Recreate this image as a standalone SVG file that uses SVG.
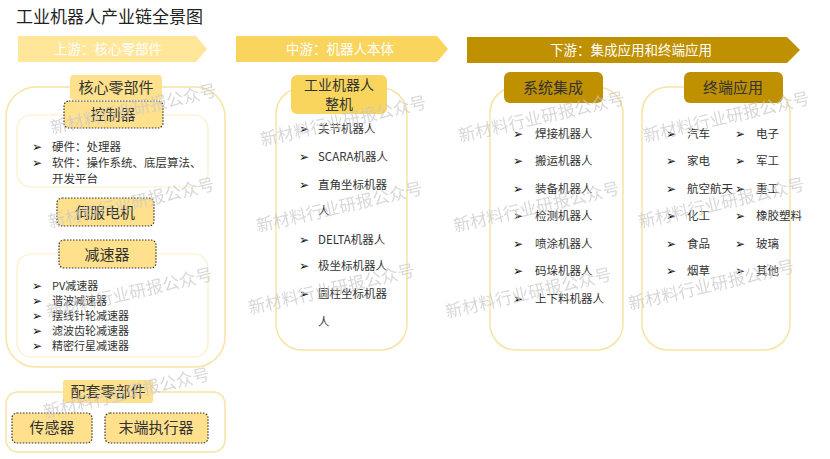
<svg xmlns="http://www.w3.org/2000/svg" width="830" height="459" viewBox="0 0 830 459">
<defs>
<style>
.t{font-family:"Noto Sans CJK SC","Liberation Sans",sans-serif;fill:#333;}
.title{font-size:17px;fill:#222;}
.ban{font-size:13.5px;fill:#fff;text-anchor:middle;}
.lbl{font-size:15px;text-anchor:middle;}
.it{font-size:11.5px;}
.b{font-family:"DejaVu Sans",sans-serif;font-size:12px;fill:#111;}
.frame{fill:#fff;stroke:#F6E4A2;stroke-width:1.5;}
.inner{fill:#fff;stroke:#FBEFC6;stroke-width:1.2;}
.dot{fill:#FFE08C;stroke:#333;stroke-width:1.2;stroke-dasharray:1.5 1.5;}
.wm{font-family:"Noto Sans CJK SC",sans-serif;font-size:17px;fill:#c8c8c8;opacity:0.7;}
</style>
</defs>
<rect width="830" height="459" fill="#fff"/>
<text class="t title" x="16" y="23">工业机器人产业链全景图</text>

<g id="banners">
<polygon points="18,36 196,36 207,49 196,62 18,62" fill="#FFE699"/>
<text class="t ban" x="108" y="54">上游：核心零部件</text>
<polygon points="236,36 437,36 448,49 437,62 236,62" fill="#F9D55E"/>
<text class="t ban" x="340" y="54">中游：机器人本体</text>
<polygon points="467,37 787,37 800,50 787,63 467,63" fill="#BF9000"/>
<text class="t ban" x="631" y="55">下游：集成应用和终端应用</text>
</g>

<g id="core">
<rect class="frame" x="6" y="87" width="219" height="280" rx="30"/>
<rect x="70" y="75" width="92" height="25" rx="4" fill="#FFE08C"/>
<text class="t lbl" x="116" y="93">核心零部件</text>
<rect class="inner" x="17" y="115" width="191" height="72" rx="14"/>
<rect class="inner" x="17" y="254" width="191" height="103" rx="14"/>
</g>

<g id="controller">
<rect class="dot" x="64" y="101" width="99" height="27" rx="5"/>
<text class="t lbl" x="113" y="120">控制器</text>
<text class="b" x="32" y="151">➢</text><text class="t it" x="52" y="151">硬件：处理器</text>
<text class="b" x="32" y="167">➢</text><text class="t it" x="52" y="167">软件：操作系统、底层算法、</text>
<text class="t it" x="52" y="183">开发平台</text>
</g>

<g id="servo">
<rect class="dot" x="57" y="198" width="97" height="28" rx="5"/>
<text class="t lbl" x="105" y="218">伺服电机</text>
</g>

<g id="reducer">
<rect class="dot" x="59" y="240" width="97" height="28" rx="5"/>
<text class="t lbl" x="107" y="260">减速器</text>
<g class="t it" style="font-size:11px">
<text x="52" y="290">PV减速器</text>
<text x="52" y="305">谐波减速器</text>
<text x="52" y="320">摆线针轮减速器</text>
<text x="52" y="335">滤波齿轮减速器</text>
<text x="52" y="350">精密行星减速器</text>
</g>
<text class="b" x="32" y="290">➢</text>
<text class="b" x="32" y="305">➢</text>
<text class="b" x="32" y="320">➢</text>
<text class="b" x="32" y="335">➢</text>
<text class="b" x="32" y="350">➢</text>
</g>

<g id="support">
<rect class="frame" x="6" y="392" width="219" height="60" rx="12"/>
<rect x="63" y="380" width="90" height="23" rx="3" fill="#FFE08C"/>
<text class="t lbl" x="108" y="397">配套零部件</text>
</g>
<g id="sensor">
<rect class="dot" x="12" y="413" width="80" height="30" rx="5"/>
<text class="t lbl" x="52" y="433">传感器</text>
</g>
<g id="effector">
<rect class="dot" x="105" y="413" width="103" height="30" rx="5"/>
<text class="t lbl" x="156" y="433">末端执行器</text>
</g>

<g id="robot">
<rect class="frame" x="276" y="88" width="131" height="262" rx="26"/>
<rect x="291" y="75" width="96" height="39" rx="6" fill="#F9D55E"/>
<text class="t lbl" x="339" y="90" style="font-size:14px">工业机器人</text>
<text class="t lbl" x="339" y="109" style="font-size:14px">整机</text>
<g class="t it">
<text x="318" y="133">关节机器人</text>
<text x="318" y="161">SCARA机器人</text>
<text x="318" y="189">直角坐标机器</text>
<text x="318" y="215">人</text>
<text x="318" y="244">DELTA机器人</text>
<text x="318" y="270">极坐标机器人</text>
<text x="318" y="298">圆柱坐标机器</text>
<text x="318" y="326">人</text>
</g>
<text class="b" x="299" y="133">➢</text>
<text class="b" x="299" y="161">➢</text>
<text class="b" x="299" y="189">➢</text>
<text class="b" x="299" y="244">➢</text>
<text class="b" x="299" y="270">➢</text>
<text class="b" x="299" y="298">➢</text>
</g>

<g id="integration">
<rect class="frame" x="490" y="87" width="133" height="263" rx="26"/>
<rect x="504" y="72" width="99" height="31" rx="6" fill="#BF9000"/>
<text class="t lbl" x="553" y="93">系统集成</text>
<g class="t it">
<text x="535" y="138">焊接机器人</text>
<text x="535" y="165">搬运机器人</text>
<text x="535" y="193">装备机器人</text>
<text x="535" y="220">检测机器人</text>
<text x="535" y="248">喷涂机器人</text>
<text x="535" y="275">码垛机器人</text>
<text x="535" y="303">上下料机器人</text>
</g>
<text class="b" x="513" y="138">➢</text>
<text class="b" x="513" y="165">➢</text>
<text class="b" x="513" y="193">➢</text>
<text class="b" x="513" y="220">➢</text>
<text class="b" x="513" y="248">➢</text>
<text class="b" x="513" y="275">➢</text>
<text class="b" x="513" y="303">➢</text>
</g>

<g id="terminal">
<rect class="frame" x="642" y="87" width="148" height="263" rx="26"/>
<rect x="684" y="72" width="99" height="31" rx="6" fill="#BF9000"/>
<text class="t lbl" x="733" y="93">终端应用</text>
<g class="t it">
<text x="687" y="138">汽车</text><text x="756" y="138">电子</text>
<text x="687" y="165">家电</text><text x="756" y="165">军工</text>
<text x="687" y="193">航空航天</text><text x="756" y="193">重工</text>
<text x="687" y="220">化工</text><text x="756" y="220">橡胶塑料</text>
<text x="687" y="248">食品</text><text x="756" y="248">玻璃</text>
<text x="687" y="275">烟草</text><text x="756" y="275">其他</text>
</g>
<text class="b" x="666" y="138">➢</text><text class="b" x="735" y="138">➢</text>
<text class="b" x="666" y="165">➢</text><text class="b" x="735" y="165">➢</text>
<text class="b" x="666" y="193">➢</text><text class="b" x="735" y="193">➢</text>
<text class="b" x="666" y="220">➢</text><text class="b" x="735" y="220">➢</text>
<text class="b" x="666" y="248">➢</text><text class="b" x="735" y="248">➢</text>
<text class="b" x="666" y="275">➢</text><text class="b" x="735" y="275">➢</text>
</g>

<g id="watermarks" class="wm">
<text transform="translate(52,134) rotate(-13)">新材料行业研报公众号</text>
<text transform="translate(50,228) rotate(-13)">新材料行业研报公众号</text>
<text transform="translate(48,318) rotate(-13)">新材料行业研报公众号</text>
<text transform="translate(45,418) rotate(-13)">新材料行业研报公众号</text>
<text transform="translate(262,146) rotate(-13)">新材料行业研报公众号</text>
<text transform="translate(258,232) rotate(-13)">新材料行业研报公众号</text>
<text transform="translate(250,314) rotate(-13)">新材料行业研报公众号</text>
<text transform="translate(460,142) rotate(-13)">新材料行业研报公众号</text>
<text transform="translate(455,232) rotate(-13)">新材料行业研报公众号</text>
<text transform="translate(447,318) rotate(-13)">新材料行业研报公众号</text>
<text transform="translate(645,142) rotate(-13)">新材料行业研报公众号</text>
<text transform="translate(640,228) rotate(-13)">新材料行业研报公众号</text>
<text transform="translate(630,310) rotate(-13)">新材料行业研报公众号</text>
</g>
</svg>
